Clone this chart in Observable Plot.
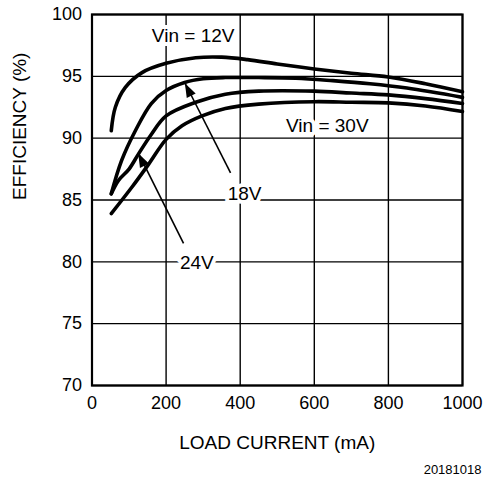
<!DOCTYPE html>
<html>
<head>
<meta charset="utf-8">
<script src="https://cdn.jsdelivr.net/npm/d3@7"></script>
<script src="https://cdn.jsdelivr.net/npm/@observablehq/plot@0.6"></script>
<style>
  html, body { margin: 0; padding: 0; background: #fff; }
</style>
</head>
<body>
<div id="chart"></div>
<script>
// ---- data ----
const load12 = [52, 63, 90, 135, 200, 280, 350, 420, 500, 600, 700, 800, 900, 1000];
const eff12  = [90.6, 92.5, 94.1, 95.3, 96.05, 96.5, 96.55, 96.35, 96.0, 95.6, 95.25, 94.95, 94.4, 93.75];

const load18 = [52, 80, 117, 160, 200, 250, 300, 360, 450, 550, 650, 750, 850, 1000];
const eff18  = [85.5, 88.2, 90.6, 92.8, 93.85, 94.5, 94.8, 94.9, 94.9, 94.85, 94.65, 94.4, 94.05, 93.3];

const load24 = [52, 72, 100, 126, 160, 200, 280, 360, 450, 600, 700, 800, 900, 1000];
const eff24  = [85.5, 86.6, 87.5, 88.75, 90.3, 91.8, 92.9, 93.55, 93.8, 93.8, 93.65, 93.5, 93.2, 92.8];

const load30 = [52, 108, 153, 200, 243, 297, 360, 450, 600, 700, 800, 900, 1000];
const eff30  = [83.9, 86.05, 87.9, 89.9, 91.0, 91.8, 92.4, 92.75, 92.95, 92.9, 92.85, 92.6, 92.15];

const xTicks = [0, 200, 400, 600, 800, 1000];
const yTicks = [70, 75, 80, 85, 90, 95, 100];

const labels = [
  {text: "Vin = 12V", x: 273, y: 97.75},
  {text: "Vin = 30V", x: 635, y: 90.5},
  {text: "18V",       x: 412, y: 85.0},
  {text: "24V",       x: 283, y: 79.45}
];

const arrows = [
  {x1: 374, y1: 87.2, x2: 252, y2: 94.4},
  {x1: 247, y1: 81.5, x2: 126, y2: 88.75}
];

const xLabel = "LOAD CURRENT (mA)";
const yLabel = "EFFICIENCY (%)";
const caption = "20181018";

// ---- build ----
const series = [
  {name: "12V", load: load12, eff: eff12},
  {name: "18V", load: load18, eff: eff18},
  {name: "24V", load: load24, eff: eff24},
  {name: "30V", load: load30, eff: eff30}
];
const rows = series.flatMap(s => s.load.map((x, i) => ({series: s.name, load: x, eff: s.eff[i]})));

const font = "'Liberation Sans', Arial, Helvetica, sans-serif";

function arrowHeads(index, scales) {
  const g = d3.create("svg:g");
  for (const a of arrows) {
    const tx = scales.x(a.x2), ty = scales.y(a.y2);
    const sx = scales.x(a.x1), sy = scales.y(a.y1);
    const ang = Math.atan2(ty - sy, tx - sx);
    const L = 14, W = 5;
    const bx = tx - L * Math.cos(ang), by = ty - L * Math.sin(ang);
    const px = -Math.sin(ang) * W, py = Math.cos(ang) * W;
    g.append("path")
      .attr("d", `M${tx},${ty}L${bx + px},${by + py}L${bx - px},${by - py}Z`)
      .attr("fill", "black");
  }
  return g.node();
}

const chart = Plot.plot({
  width: 483,
  height: 478,
  marginLeft: 91.5,
  marginRight: 21,
  marginTop: 14,
  marginBottom: 93,
  style: {fontFamily: font, fontSize: "18px", color: "black", background: "white", overflow: "visible"},
  x: {domain: [0, 1000]},
  y: {domain: [70, 100]},
  marks: [
    Plot.gridX(xTicks, {stroke: "black", strokeOpacity: 1, strokeWidth: 1.4}),
    Plot.gridY(yTicks, {stroke: "black", strokeOpacity: 1, strokeWidth: 1.4}),
    Plot.axisX(xTicks, {tickSize: 0, tickPadding: 11, label: null, fontSize: 18, tickFormat: d => String(d)}),
    Plot.axisY(yTicks, {tickSize: 0, tickPadding: 10, label: null, fontSize: 18, tickFormat: d => String(d)}),
    Plot.frame({stroke: "black", strokeWidth: 2.2}),
    Plot.line(rows, {x: "load", y: "eff", z: "series", stroke: "black", strokeWidth: 3.6, curve: "catmull-rom"}),
    Plot.link(arrows, {x1: "x1", y1: "y1", x2: "x2", y2: "y2", stroke: "black", strokeWidth: 1.6}),
    arrowHeads,
    Plot.text(labels, {x: "x", y: "y", text: "text", fontSize: 19, lineAnchor: "bottom", textAnchor: "middle",
      fill: "black", stroke: "white", strokeWidth: 8, paintOrder: "stroke"}),
    Plot.text([xLabel], {frameAnchor: "bottom", dy: 63, lineAnchor: "bottom", fontSize: 19, fill: "black"}),
    Plot.text([yLabel], {frameAnchor: "left", dx: -66, rotate: -90, lineAnchor: "bottom", fontSize: 19, fill: "black"}),
    Plot.text([caption], {frameAnchor: "bottom-right", dx: 19, dy: 88, lineAnchor: "bottom", textAnchor: "end", fontSize: 13, fill: "black"})
  ]
});
document.getElementById("chart").appendChild(chart);
</script>
</body>
</html>
